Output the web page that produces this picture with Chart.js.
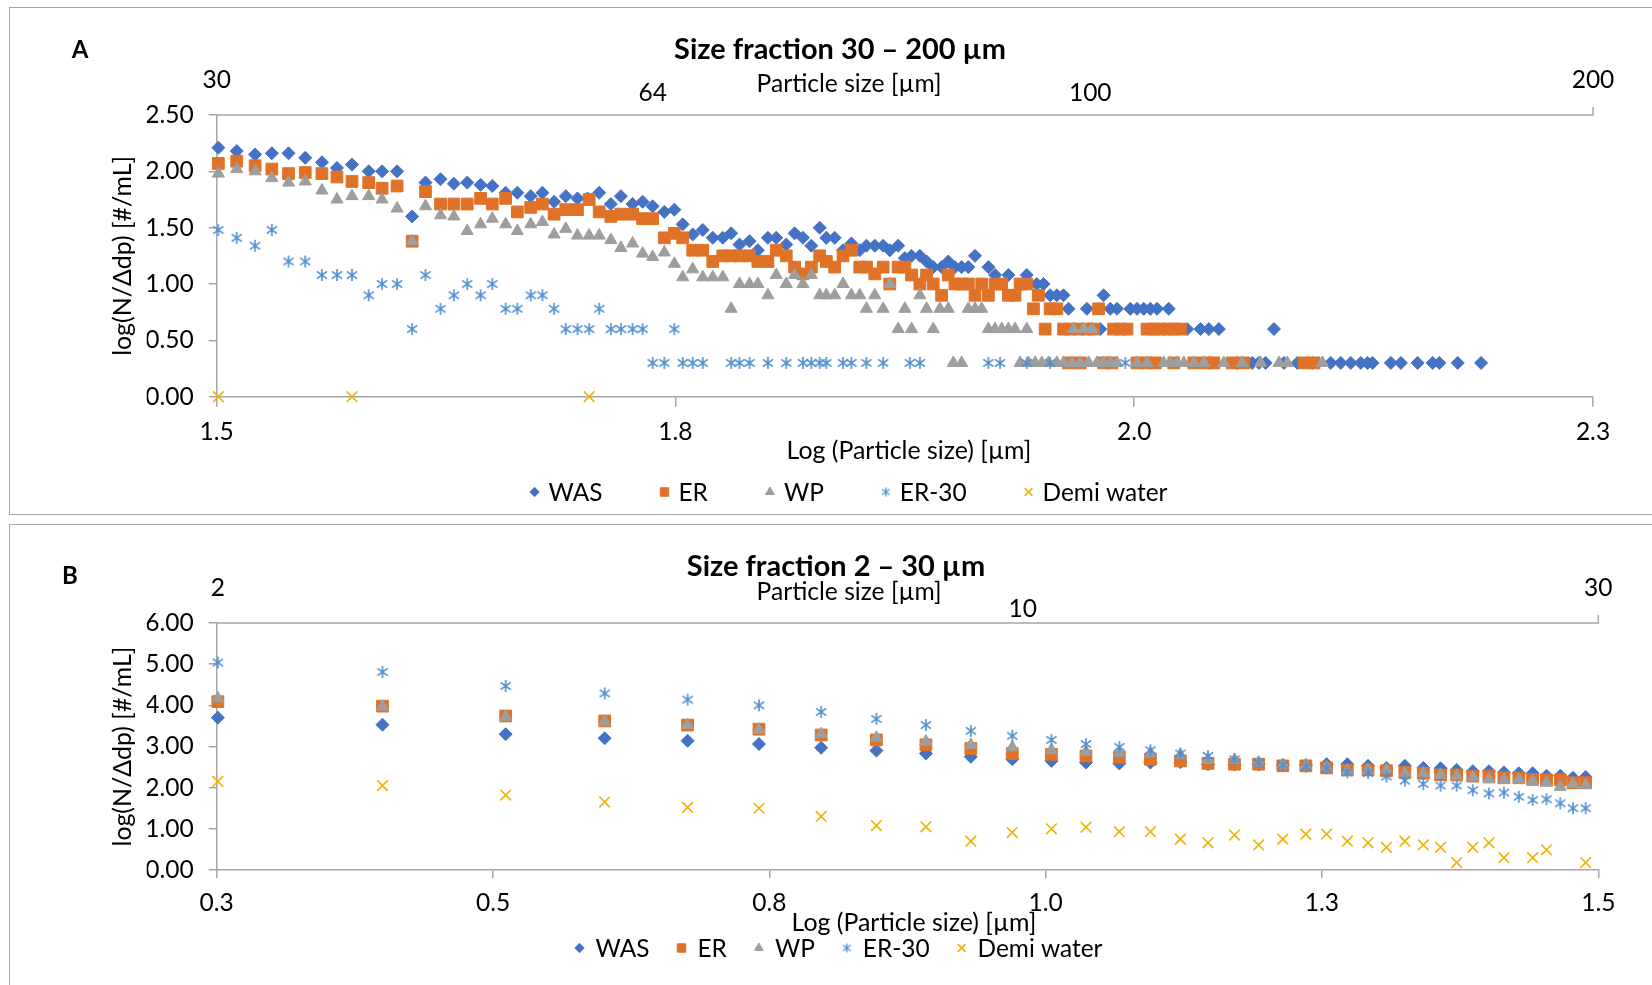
<!DOCTYPE html>
<html>
<head>
<meta charset="utf-8">
<script src="https://cdn.jsdelivr.net/npm/chart.js@4.4.1/dist/chart.umd.min.js"></script>
<style>
  body { margin: 0; background: #fff; overflow: hidden; }
  .wrap { position: absolute; left: 0; width: 1652px; }
  .box { position: absolute; border: 1.5px solid #a6a6a6; pointer-events: none; }
</style>
</head>
<body>
<div class="wrap" style="top:0;height:519px"><canvas id="chartA" width="1652" height="519"></canvas></div>
<div class="wrap" style="top:519px;height:466px"><canvas id="chartB" width="1652" height="466"></canvas></div>
<div class="box" style="left:9px;top:7px;width:1700px;height:506px"></div>
<div class="box" style="left:9px;top:524px;width:1700px;height:500px"></div>
<script>
// ---- data: panel A, size fraction 30 - 200 um, [log(size), log(N/dp)] ----
var seriesNames = ['WAS', 'ER', 'WP', 'ER-30', 'Demi water'];

var wasA = [[1.478,2.21],[1.489,2.18],[1.500,2.15],[1.510,2.16],[1.520,2.16],[1.530,2.12],[1.540,2.08],[1.549,2.03],[1.558,2.06],[1.568,2.00],
  [1.576,2.00],[1.585,2.00],[1.594,1.60],[1.602,1.90],[1.611,1.93],[1.619,1.89],[1.627,1.90],[1.635,1.88],[1.642,1.87],[1.650,1.81],
  [1.657,1.81],[1.665,1.78],[1.672,1.81],[1.679,1.73],[1.686,1.78],[1.693,1.76],[1.699,1.76],[1.706,1.81],[1.713,1.71],[1.719,1.78],
  [1.726,1.71],[1.732,1.73],[1.738,1.69],[1.745,1.64],[1.751,1.66],[1.756,1.53],[1.762,1.44],[1.768,1.48],[1.774,1.41],[1.780,1.41],
  [1.785,1.45],[1.790,1.35],[1.796,1.38],[1.801,1.30],[1.807,1.41],[1.812,1.41],[1.818,1.35],[1.823,1.45],[1.828,1.41],[1.833,1.34],
  [1.838,1.50],[1.842,1.41],[1.847,1.41],[1.852,1.30],[1.857,1.36],[1.862,1.30],[1.866,1.34],[1.871,1.34],[1.876,1.34],[1.880,1.30],
  [1.885,1.34],[1.889,1.23],[1.893,1.25],[1.898,1.25],[1.902,1.20],[1.906,1.15],[1.911,1.15],[1.915,1.20],[1.919,1.15],[1.923,1.15],
  [1.927,1.15],[1.931,1.25],[1.939,1.15],[1.943,1.08],[1.951,1.08],[1.962,1.08],[1.968,1.00],[1.972,1.00],[1.976,0.90],[1.980,0.90],
  [1.984,0.90],[1.987,0.78],[1.998,0.78],[2.006,0.60],[2.008,0.90],[2.012,0.78],[2.016,0.78],[2.024,0.78],[2.028,0.78],[2.032,0.78],
  [2.036,0.78],[2.040,0.78],[2.047,0.78],[2.058,0.60],[2.066,0.60],[2.071,0.60],[2.077,0.60],[2.088,0.30],[2.097,0.30],[2.101,0.30],
  [2.105,0.30],[2.110,0.60],[2.116,0.30],[2.124,0.30],[2.133,0.30],[2.144,0.30],[2.150,0.30],[2.156,0.30],[2.162,0.30],[2.166,0.30],
  [2.169,0.30],[2.180,0.30],[2.186,0.30],[2.196,0.30],[2.205,0.30],[2.209,0.30],[2.220,0.30],[2.234,0.30]];

var erA = [[1.478,2.07],[1.489,2.09],[1.500,2.05],[1.510,2.02],[1.520,1.98],[1.530,1.99],[1.540,1.98],[1.549,1.95],[1.558,1.91],[1.568,1.90],
  [1.576,1.85],[1.585,1.87],[1.594,1.38],[1.602,1.82],[1.611,1.71],[1.619,1.71],[1.627,1.71],[1.635,1.76],[1.642,1.71],[1.650,1.76],
  [1.657,1.64],[1.665,1.68],[1.672,1.71],[1.679,1.62],[1.686,1.66],[1.693,1.66],[1.700,1.75],[1.706,1.64],[1.713,1.60],[1.719,1.62],
  [1.726,1.62],[1.732,1.58],[1.738,1.58],[1.745,1.41],[1.751,1.45],[1.756,1.41],[1.762,1.30],[1.768,1.30],[1.774,1.20],[1.780,1.25],
  [1.785,1.25],[1.790,1.25],[1.796,1.25],[1.801,1.20],[1.807,1.20],[1.812,1.30],[1.818,1.25],[1.823,1.15],[1.828,1.09],[1.833,1.15],
  [1.838,1.25],[1.842,1.20],[1.847,1.15],[1.852,1.25],[1.857,1.30],[1.862,1.15],[1.866,1.15],[1.871,1.09],[1.876,1.15],[1.880,1.00],
  [1.885,1.15],[1.889,1.15],[1.893,1.08],[1.898,1.00],[1.902,1.08],[1.906,1.00],[1.911,0.90],[1.915,1.08],[1.919,1.00],[1.923,1.00],
  [1.927,1.00],[1.931,0.90],[1.935,1.00],[1.939,0.90],[1.943,1.00],[1.947,1.00],[1.951,0.90],[1.955,0.90],[1.958,1.00],[1.962,1.00],
  [1.966,0.78],[1.969,0.90],[1.973,0.60],[1.976,0.78],[1.980,0.78],[1.984,0.60],[1.987,0.30],[1.988,0.60],[1.993,0.60],[1.994,0.30],
  [1.998,0.60],[2.002,0.60],[2.005,0.78],[2.008,0.30],[2.013,0.30],[2.014,0.60],[2.018,0.60],[2.022,0.60],[2.028,0.30],[2.034,0.60],
  [2.034,0.30],[2.038,0.60],[2.039,0.30],[2.042,0.60],[2.046,0.60],[2.050,0.60],[2.050,0.30],[2.054,0.60],[2.062,0.30],[2.069,0.30],
  [2.074,0.30],[2.085,0.30],[2.092,0.30],[2.128,0.30],[2.134,0.30]];

var wpA = [[1.478,1.98],[1.489,2.02],[1.500,2.00],[1.510,1.94],[1.520,1.90],[1.530,1.91],[1.540,1.83],[1.549,1.75],[1.558,1.78],[1.568,1.78],
  [1.576,1.75],[1.585,1.67],[1.594,1.38],[1.602,1.69],[1.611,1.61],[1.619,1.60],[1.627,1.47],[1.635,1.53],[1.642,1.58],[1.650,1.53],
  [1.657,1.47],[1.665,1.53],[1.672,1.55],[1.679,1.44],[1.686,1.49],[1.693,1.43],[1.700,1.43],[1.706,1.43],[1.713,1.39],[1.719,1.32],
  [1.726,1.36],[1.732,1.27],[1.738,1.24],[1.745,1.28],[1.751,1.18],[1.756,1.06],[1.762,1.13],[1.768,1.06],[1.774,1.06],[1.780,1.06],
  [1.785,0.78],[1.790,1.00],[1.796,1.00],[1.801,1.00],[1.807,0.90],[1.812,1.08],[1.818,1.00],[1.823,1.08],[1.828,1.00],[1.833,1.08],
  [1.838,0.90],[1.842,0.90],[1.847,0.90],[1.852,1.00],[1.857,0.90],[1.862,0.90],[1.866,0.78],[1.871,0.90],[1.876,0.78],[1.880,1.00],
  [1.885,0.60],[1.889,0.78],[1.893,0.60],[1.898,0.90],[1.902,0.78],[1.906,0.60],[1.910,0.78],[1.915,0.78],[1.918,0.30],[1.923,0.30],
  [1.927,0.78],[1.931,0.78],[1.935,0.78],[1.939,0.60],[1.943,0.60],[1.947,0.60],[1.951,0.60],[1.955,0.60],[1.958,0.30],[1.962,0.60],
  [1.963,0.30],[1.967,0.30],[1.971,0.30],[1.975,0.30],[1.980,0.30],[1.984,0.30],[1.989,0.30],[1.990,0.60],[1.994,0.30],[1.996,0.60],
  [1.999,0.30],[2.001,0.60],[2.004,0.30],[2.008,0.30],[2.012,0.30],[2.016,0.30],[2.028,0.30],[2.034,0.30],[2.044,0.30],[2.048,0.30],
  [2.052,0.30],[2.056,0.30],[2.062,0.30],[2.068,0.30],[2.080,0.30],[2.091,0.30],[2.102,0.30],[2.113,0.30],[2.118,0.30],[2.139,0.30]];

var er30A = [[1.478,1.48],[1.489,1.41],[1.500,1.34],[1.510,1.48],[1.520,1.20],[1.530,1.20],[1.540,1.08],[1.549,1.08],[1.558,1.08],[1.568,0.90],
  [1.576,1.00],[1.585,1.00],[1.594,0.60],[1.602,1.08],[1.611,0.78],[1.619,0.90],[1.627,1.00],[1.635,0.90],[1.642,1.00],[1.650,0.78],
  [1.657,0.78],[1.665,0.90],[1.672,0.90],[1.679,0.78],[1.686,0.60],[1.693,0.60],[1.700,0.60],[1.706,0.78],[1.713,0.60],[1.719,0.60],
  [1.726,0.60],[1.732,0.60],[1.738,0.30],[1.745,0.30],[1.751,0.60],[1.756,0.30],[1.762,0.30],[1.768,0.30],[1.785,0.30],[1.790,0.30],
  [1.796,0.30],[1.807,0.30],[1.818,0.30],[1.828,0.30],[1.833,0.30],[1.838,0.30],[1.842,0.30],[1.852,0.30],[1.857,0.30],[1.866,0.30],
  [1.876,0.30],[1.892,0.30],[1.898,0.30],[1.939,0.30],[1.946,0.30],[1.962,0.30],[1.976,0.30],[2.021,0.30]];

var demiA = [[1.478,0.00],[1.558,0.00],[1.700,0.00]];

var xTickLabelsA = ['1.5', '1.8', '2.0', '2.3'];
var yTickLabelsA = ['0.00', '0.50', '1.00', '1.50', '2.00', '2.50'];
var topLabelsA = ['30', '64', '100', '200'];
var topLabelPosA = [1.477, 1.738, 2.000, 2.301];

// ---- data: panel B, size fraction 2 - 30 um ----
var xB = [0.301,0.444,0.551,0.637,0.709,0.771,0.825,0.873,0.916,0.955,0.991,1.025,1.055,1.084,1.111,1.137,1.161,1.184,1.205,
  1.226,1.246,1.264,1.282,1.300,1.316,1.332,1.348,1.363,1.377,1.391,1.405,1.418,1.431,1.443,1.455,1.467,1.478,1.489];
var wasB = [3.70,3.53,3.30,3.20,3.14,3.06,2.97,2.90,2.83,2.75,2.69,2.65,2.61,2.59,2.61,2.62,2.57,2.56,2.56,
  2.55,2.55,2.57,2.57,2.53,2.48,2.53,2.48,2.47,2.43,2.40,2.40,2.37,2.35,2.35,2.29,2.29,2.24,2.26];
var erB = [4.09,3.98,3.74,3.62,3.52,3.42,3.28,3.16,3.04,2.95,2.83,2.81,2.77,2.74,2.69,2.65,2.59,2.57,2.57,
  2.53,2.53,2.48,2.43,2.43,2.41,2.37,2.35,2.31,2.31,2.28,2.28,2.24,2.24,2.20,2.19,2.19,2.12,2.12];
var wpB = [4.17,3.97,3.72,3.60,3.52,3.41,3.30,3.21,3.12,3.04,2.98,2.91,2.87,2.85,2.83,2.79,2.67,2.67,2.61,
  2.55,2.53,2.49,2.41,2.43,2.43,2.35,2.35,2.31,2.28,2.25,2.20,2.19,2.20,2.15,2.12,2.02,2.09,2.06];
var er30B = [5.04,4.81,4.47,4.29,4.14,4.00,3.84,3.67,3.52,3.38,3.26,3.16,3.06,2.99,2.91,2.83,2.77,2.69,2.61,
  2.55,2.51,2.47,2.37,2.36,2.27,2.17,2.09,2.05,2.05,1.94,1.86,1.88,1.78,1.70,1.72,1.62,1.50,1.50];
var demiB = [2.15,2.05,1.82,1.65,1.52,1.50,1.30,1.08,1.05,0.70,0.91,1.00,1.04,0.93,0.93,0.75,0.66,0.85,0.61,
  0.75,0.87,0.87,0.70,0.66,0.55,0.70,0.61,0.55,0.18,0.55,0.66,0.30,null,0.30,0.49,null,null,0.18];

var xTickLabelsB = ['0.3', '0.5', '0.8', '1.0', '1.3', '1.5'];
var yTickLabelsB = ['0.00', '1.00', '2.00', '3.00', '4.00', '5.00', '6.00'];
var topLabelsB = ['2', '10', '30'];
var topLabelPosB = [0.301, 1.000, 1.500];

// ---- styling ----
var FONT = 'Lato';
var AXIS = '#a6a6a6';
var colors = ['#4472c4', '#e07228', '#9e9e9e', '#5b9bd5', '#f2b000'];

function makeAsterisk(color, size, lw) {
    var c = document.createElement('canvas');
    c.width = size; c.height = size;
    var g = c.getContext('2d');
    var m = size / 2, r = size / 2 - 1;
    g.strokeStyle = color;
    g.lineWidth = lw;
    g.beginPath();
    g.moveTo(m, m - r); g.lineTo(m, m + r);
    g.moveTo(m - r * 0.85, m - r * 0.6); g.lineTo(m + r * 0.85, m + r * 0.6);
    g.moveTo(m - r * 0.85, m + r * 0.6); g.lineTo(m + r * 0.85, m - r * 0.6);
    g.stroke();
    return c;
}

var measureCtx = document.createElement('canvas').getContext('2d');
function fitSize(text, width, weight) {
    measureCtx.font = (weight || '') + ' 100px ' + FONT;
    return 100 * width / measureCtx.measureText(text).width;
}

var tickSize = fitSize('2.50', 48.5);
var titleSize = fitSize('Size fraction 30 \u2013 200 \u00b5m', 332, 'bold');
var axisTitleSize = fitSize('Log (Particle size) [\u00b5m]', 245);
var topTitleSize = fitSize('Particle size [\u00b5m]', 185);
var legendSize = fitSize('Demi water', 125);

function markerStyles(big) {
    var k = big ? 1 : 0.72;
    return [
        { pointStyle: 'rectRot', radius: 6.5 * k, borderWidth: 1 },
        { pointStyle: 'rect', radius: 8.3 * k, borderWidth: 1 },
        { pointStyle: 'triangle', radius: 7 * k, borderWidth: 1 },
        { pointStyle: makeAsterisk('#4f8fcf', big ? 14 : 11, big ? 1.6 : 1.3), radius: 7 * k, borderWidth: 1 },
        { pointStyle: 'crossRot', radius: 7.5 * k, borderWidth: 1.6 }
    ];
}

function buildDatasets(dataList) {
    var st = markerStyles(true);
    return dataList.map(function (d, i) {
        return {
            label: seriesNames[i],
            data: d,
            order: 4 - i,
            clip: false,
            pointStyle: st[i].pointStyle,
            pointRadius: st[i].radius,
            pointBorderWidth: st[i].borderWidth,
            backgroundColor: colors[i],
            borderColor: colors[i],
            showLine: false
        };
    });
}

function toPoints(xs, ys) {
    var out = [];
    for (var i = 0; i < xs.length; i++) {
        if (ys[i] !== null) out.push({ x: xs[i], y: ys[i] });
    }
    return out;
}
function pairs(arr) {
    return arr.map(function (p) { return { x: p[0], y: p[1] }; });
}

// texts, top axis line and legend drawn around the plot
var panelPlugin = {
    id: 'panelText',
    afterDraw: function (chart, args, o) {
        var ctx = chart.ctx, ca = chart.chartArea, xs = chart.scales.x;
        ctx.save();
        // secondary (top) axis line
        ctx.strokeStyle = AXIS;
        ctx.lineWidth = 1.5;
        ctx.beginPath();
        ctx.moveTo(ca.left, ca.top);
        ctx.lineTo(ca.right, ca.top);
        ctx.lineTo(ca.right, ca.top - 8);
        ctx.stroke();

        ctx.fillStyle = '#000';
        ctx.textAlign = 'center';
        ctx.textBaseline = 'middle';
        ctx.font = 'bold ' + o.letterSize + 'px ' + FONT;
        ctx.fillText(o.letter, o.letterX, o.letterY);

        ctx.font = 'bold ' + titleSize + 'px ' + FONT;
        ctx.fillText(o.title, o.titleX, ca.top + o.titleDy);

        ctx.font = tickSize + 'px ' + FONT;
        for (var i = 0; i < o.topLabels.length; i++) {
            ctx.fillText(o.topLabels[i], xs.getPixelForValue(o.topPos[i]), ca.top + o.topDy[i]);
        }
        ctx.font = topTitleSize + 'px ' + FONT;
        ctx.fillText('Particle size [\u00b5m]', o.topTitleX, ca.top + o.topTitleDy);

        ctx.font = axisTitleSize + 'px ' + FONT;
        ctx.fillText('Log (Particle size) [\u00b5m]', o.xTitleX, ca.bottom + o.xTitleDy);

        ctx.save();
        ctx.translate(o.yTitleX, (ca.top + ca.bottom) / 2);
        ctx.rotate(-Math.PI / 2);
        ctx.fillText('log(N/\u0394dp) [#/mL]', 0, 0);
        ctx.restore();

        // legend
        var st = markerStyles(false);
        ctx.font = legendSize + 'px ' + FONT;
        var ds = chart.data.datasets;
        var total = 0, widths = [];
        for (i = 0; i < ds.length; i++) {
            widths.push(ctx.measureText(ds[i].label).width);
            total += o.legMarkGap + widths[i];
        }
        total += o.legItemGap * (ds.length - 1) + 8;
        var lx = o.legendCenterX - total / 2 + 4;
        var ly = ca.bottom + o.legendDy;
        ctx.textAlign = 'left';
        for (i = 0; i < ds.length; i++) {
            ctx.fillStyle = colors[i];
            ctx.strokeStyle = colors[i];
            ctx.lineWidth = st[i].borderWidth;
            Chart.helpers.drawPoint(ctx, { pointStyle: st[i].pointStyle, radius: st[i].radius, borderWidth: st[i].borderWidth, rotation: 0 }, lx, ly);
            ctx.fillStyle = '#000';
            ctx.fillText(ds[i].label, lx + o.legMarkGap, ly + 1);
            lx += o.legMarkGap + widths[i] + o.legItemGap;
        }
        ctx.restore();
    }
};

function axes(xMin, xMax, xStep, xLabels, yMax, yStep, yLabels, xH, yW, xPad, tickLenX) {
    return {
        x: {
            type: 'linear', min: xMin, max: xMax,
            afterBuildTicks: function (s) {
                s.ticks = xLabels.map(function (l, i) { return { value: xMin + i * xStep }; });
            },
            afterFit: function (s) { s.height = xH; },
            ticks: { autoSkip: false, maxRotation: 0, padding: xPad, color: '#000', font: { family: FONT, size: tickSize },
                callback: function (v, i) { return xLabels[i]; } },
            grid: { drawOnChartArea: false, drawTicks: true, tickLength: tickLenX, color: AXIS, lineWidth: 1.5 },
            border: { color: AXIS, width: 1.5 }
        },
        y: {
            min: 0, max: yMax,
            afterBuildTicks: function (s) {
                s.ticks = yLabels.map(function (l, i) { return { value: i * yStep }; });
            },
            afterFit: function (s) { s.width = 70; },
            ticks: { padding: 15, color: '#000', font: { family: FONT, size: tickSize },
                callback: function (v, i) { return yLabels[i]; } },
            grid: { drawOnChartArea: false, drawTicks: true, tickLength: 8, color: AXIS, lineWidth: 1.5 },
            border: { color: AXIS, width: 1.5 }
        }
    };
}

var xMinA = 1.477, xMaxA = 2.301;
new Chart(document.getElementById('chartA'), {
    type: 'scatter',
    data: { datasets: buildDatasets([pairs(wasA), pairs(erA), pairs(wpA), pairs(er30A), pairs(demiA)]) },
    options: {
        responsive: false, animation: false,
        layout: { padding: { left: 146.7, right: 59, top: 115, bottom: 0 } },
        scales: axes(xMinA, xMaxA, (xMaxA - xMinA) / 3, xTickLabelsA, 2.5, 0.5, yTickLabelsA, 122.3, 70, 11, 10),
        plugins: {
            legend: { display: false }, tooltip: { enabled: false },
            panelText: {
                letter: 'A', letterX: 80, letterY: 50, letterSize: 24,
                title: 'Size fraction 30 \u2013 200 \u00b5m', titleX: 840, titleDy: -65.5,
                topLabels: topLabelsA, topPos: topLabelPosA, topDy: [-35, -22, -22, -35],
                topTitleX: 849, topTitleDy: -31,
                xTitleX: 909, xTitleDy: 54.3, yTitleX: 123,
                legendCenterX: 851, legendDy: 95.3, legMarkGap: 14, legItemGap: 62
            }
        }
    },
    plugins: [panelPlugin]
});

var xMinB = 0.3, xMaxB = 1.5;
new Chart(document.getElementById('chartB'), {
    type: 'scatter',
    data: { datasets: buildDatasets([toPoints(xB, wasB), toPoints(xB, erB), toPoints(xB, wpB), toPoints(xB, er30B), toPoints(xB, demiB)]) },
    options: {
        responsive: false, animation: false,
        layout: { padding: { left: 146.7, right: 53.7, top: 104, bottom: 0 } },
        scales: axes(xMinB, xMaxB, 0.24, xTickLabelsB, 6, 1, yTickLabelsB, 115, 70, 10, 8),
        plugins: {
            legend: { display: false }, tooltip: { enabled: false },
            panelText: {
                letter: 'B', letterX: 70, letterY: 57, letterSize: 24,
                title: 'Size fraction 2 \u2013 30 \u00b5m', titleX: 836, titleDy: -56,
                topLabels: topLabelsB, topPos: topLabelPosB, topDy: [-35, -14, -35],
                topTitleX: 849, topTitleDy: -31,
                xTitleX: 914, xTitleDy: 53, yTitleX: 123,
                legendCenterX: 841, legendDy: 78, legMarkGap: 16, legItemGap: 32
            }
        }
    },
    plugins: [panelPlugin]
});
</script>
</body>
</html>
